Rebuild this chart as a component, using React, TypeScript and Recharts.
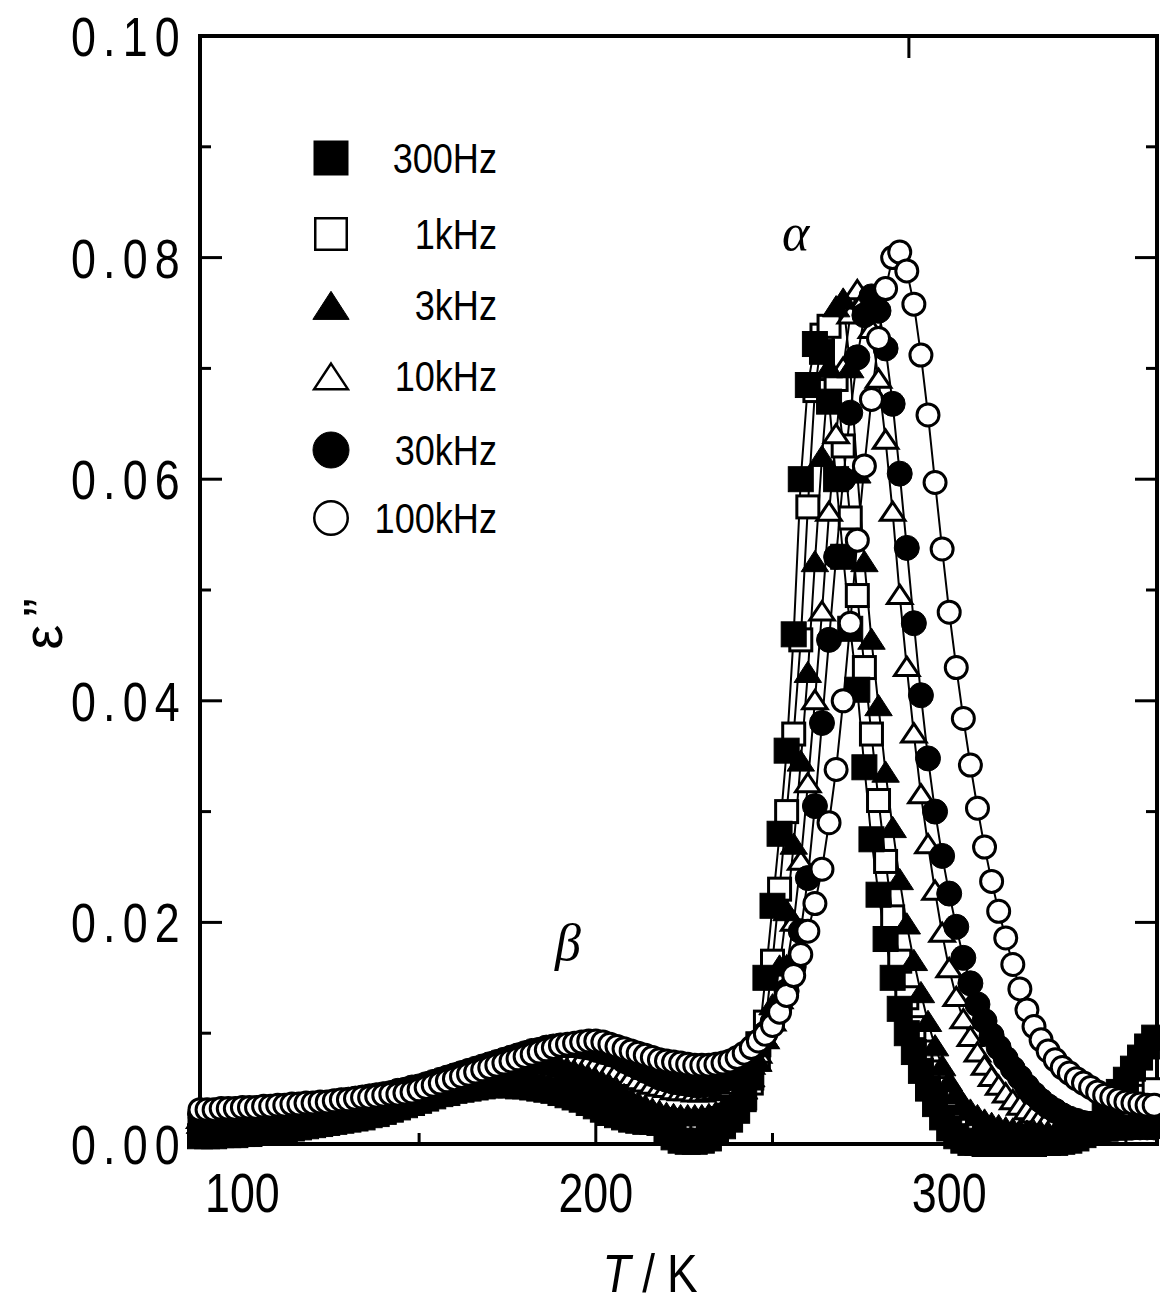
import React from 'react';
import { LineChart, Line, XAxis, YAxis } from 'recharts';

// Temperature / K (shared measurement grid)
const temps = [
  88, 90, 92, 94, 96, 98, 100, 102, 104, 106,
  108, 110, 112, 114, 116, 118, 120, 122, 124, 126,
  128, 130, 132, 134, 136, 138, 140, 142, 144, 146,
  148, 150, 152, 154, 156, 158, 160, 162, 164, 166,
  168, 170, 172, 174, 176, 178, 180, 182, 184, 186,
  188, 190, 192, 194, 196, 198, 200, 202, 204, 206,
  208, 210, 212, 214, 216, 218, 220, 222, 224, 226,
  228, 230, 232, 234, 236, 238, 240, 242, 244, 246,
  248, 250, 252, 254, 256, 258, 260, 262, 264, 266,
  268, 270, 272, 274, 276, 278, 280, 282, 284, 286,
  288, 290, 292, 294, 296, 298, 300, 302, 304, 306,
  308, 310, 312, 314, 316, 318, 320, 322, 324, 326,
  328, 330, 332, 334, 336, 338, 340, 342, 344, 346,
  348, 350, 352, 354, 356, 358,
];

const eps300Hz = [
  0.0007, 0.0007, 0.0007, 0.0008, 0.0008, 0.0008, 0.0009, 0.0009, 0.0010, 0.0010,
  0.0011, 0.0012, 0.0013, 0.0014, 0.0015, 0.0016, 0.0017, 0.0018, 0.0019, 0.0020,
  0.0021, 0.0022, 0.0023, 0.0024, 0.0026, 0.0027, 0.0029, 0.0031, 0.0033, 0.0035,
  0.0037, 0.0039, 0.0041, 0.0043, 0.0045, 0.0046, 0.0048, 0.0049, 0.0050, 0.0051,
  0.0052, 0.0053, 0.0053, 0.0053, 0.0053, 0.0052, 0.0052, 0.0051, 0.0050, 0.0049,
  0.0048, 0.0046, 0.0044, 0.0042, 0.0040, 0.0037, 0.0034, 0.0031, 0.0028, 0.0026,
  0.0024, 0.0022, 0.0021, 0.0020, 0.0020, 0.0019, 0.0012, 0.0006, 0.0003, 0.0002,
  0.0002, 0.0003, 0.0005, 0.0010, 0.0016, 0.0022, 0.0030, 0.0042, 0.0060, 0.0090,
  0.0150, 0.0215, 0.0280, 0.0355, 0.0460, 0.0600, 0.0685, 0.0722, 0.0715, 0.0670,
  0.0600, 0.0530, 0.0465, 0.0410, 0.0340, 0.0275, 0.0225, 0.0185, 0.0150, 0.0122,
  0.0100, 0.0083, 0.0066, 0.0050, 0.0036, 0.0024, 0.0014, 0.0007, 0.0003, 0.0001,
  0.0001, 0.0000, 0.0000, 0.0000, 0.0000, 0.0000, 0.0000, 0.0000, 0.0000, 0.0001,
  0.0001, 0.0001, 0.0002, 0.0003, 0.0005, 0.0008, 0.0012, 0.0018, 0.0026, 0.0036,
  0.0047, 0.0058, 0.0068, 0.0078, 0.0088, 0.0096,
];

const eps1kHz = [
  0.0013, 0.0013, 0.0014, 0.0014, 0.0014, 0.0015, 0.0015, 0.0016, 0.0016, 0.0017,
  0.0017, 0.0018, 0.0018, 0.0019, 0.0020, 0.0020, 0.0021, 0.0022, 0.0023, 0.0024,
  0.0025, 0.0026, 0.0027, 0.0028, 0.0030, 0.0031, 0.0033, 0.0035, 0.0037, 0.0039,
  0.0041, 0.0043, 0.0045, 0.0047, 0.0049, 0.0051, 0.0053, 0.0055, 0.0056, 0.0058,
  0.0059, 0.0060, 0.0061, 0.0062, 0.0062, 0.0062, 0.0062, 0.0061, 0.0060, 0.0059,
  0.0057, 0.0055, 0.0053, 0.0051, 0.0048, 0.0045, 0.0042, 0.0039, 0.0036, 0.0033,
  0.0031, 0.0029, 0.0027, 0.0025, 0.0023, 0.0022, 0.0021, 0.0020, 0.0019, 0.0019,
  0.0019, 0.0019, 0.0020, 0.0021, 0.0023, 0.0026, 0.0031, 0.0040, 0.0055, 0.0077,
  0.0110, 0.0165, 0.0230, 0.0300, 0.0370, 0.0455, 0.0575, 0.0680, 0.0730, 0.0738,
  0.0690, 0.0630, 0.0565, 0.0495, 0.0430, 0.0370, 0.0310, 0.0255, 0.0205, 0.0165,
  0.0132, 0.0105, 0.0083, 0.0065, 0.0050, 0.0038, 0.0029, 0.0022, 0.0017, 0.0013,
  0.0011, 0.0009, 0.0008, 0.0007, 0.0006, 0.0006, 0.0006, 0.0006, 0.0006, 0.0006,
  0.0006, 0.0006, 0.0007, 0.0007, 0.0008, 0.0009, 0.0011, 0.0013, 0.0015, 0.0018,
  0.0021, 0.0025, 0.0030, 0.0036, 0.0043, 0.0049,
];

const eps3kHz = [
  0.0018, 0.0018, 0.0019, 0.0019, 0.0019, 0.0020, 0.0020, 0.0021, 0.0021, 0.0022,
  0.0022, 0.0023, 0.0023, 0.0024, 0.0025, 0.0025, 0.0026, 0.0027, 0.0028, 0.0029,
  0.0030, 0.0031, 0.0032, 0.0033, 0.0035, 0.0036, 0.0038, 0.0039, 0.0041, 0.0043,
  0.0045, 0.0047, 0.0049, 0.0051, 0.0053, 0.0055, 0.0057, 0.0059, 0.0061, 0.0063,
  0.0065, 0.0066, 0.0068, 0.0069, 0.0070, 0.0071, 0.0072, 0.0072, 0.0072, 0.0071,
  0.0070, 0.0069, 0.0067, 0.0065, 0.0063, 0.0060, 0.0058, 0.0055, 0.0052, 0.0049,
  0.0044, 0.0040, 0.0037, 0.0034, 0.0031, 0.0029, 0.0027, 0.0026, 0.0025, 0.0025,
  0.0025, 0.0025, 0.0026, 0.0028, 0.0031, 0.0035, 0.0041, 0.0049, 0.0060, 0.0074,
  0.0095, 0.0125, 0.0160, 0.0210, 0.0270, 0.0345, 0.0425, 0.0525, 0.0620, 0.0700,
  0.0755, 0.0762, 0.0700, 0.0605, 0.0525, 0.0455, 0.0395, 0.0335, 0.0285, 0.0238,
  0.0198, 0.0165, 0.0136, 0.0110, 0.0088, 0.0070, 0.0056, 0.0045, 0.0036, 0.0030,
  0.0025, 0.0021, 0.0018, 0.0016, 0.0014, 0.0013, 0.0012, 0.0011, 0.0011, 0.0010,
  0.0010, 0.0010, 0.0010, 0.0010, 0.0010, 0.0010, 0.0010, 0.0011, 0.0011, 0.0012,
  0.0012, 0.0013, 0.0014, 0.0015, 0.0016, 0.0017,
];

const eps10kHz = [
  0.0022, 0.0022, 0.0023, 0.0023, 0.0023, 0.0024, 0.0024, 0.0025, 0.0025, 0.0026,
  0.0026, 0.0027, 0.0027, 0.0028, 0.0029, 0.0029, 0.0030, 0.0031, 0.0032, 0.0033,
  0.0034, 0.0035, 0.0036, 0.0037, 0.0038, 0.0039, 0.0041, 0.0042, 0.0044, 0.0045,
  0.0047, 0.0049, 0.0051, 0.0053, 0.0055, 0.0057, 0.0059, 0.0061, 0.0063, 0.0065,
  0.0067, 0.0069, 0.0071, 0.0073, 0.0075, 0.0076, 0.0078, 0.0079, 0.0080, 0.0080,
  0.0080, 0.0080, 0.0079, 0.0078, 0.0076, 0.0074, 0.0072, 0.0070, 0.0067, 0.0065,
  0.0062, 0.0060, 0.0057, 0.0055, 0.0053, 0.0051, 0.0050, 0.0048, 0.0047, 0.0047,
  0.0046, 0.0046, 0.0047, 0.0048, 0.0050, 0.0053, 0.0057, 0.0063, 0.0071, 0.0081,
  0.0094, 0.0110, 0.0130, 0.0160, 0.0200, 0.0255, 0.0325, 0.0400, 0.0480, 0.0570,
  0.0640, 0.0700, 0.0748, 0.0770, 0.0762, 0.0735, 0.0690, 0.0635, 0.0570, 0.0495,
  0.0430, 0.0370, 0.0315, 0.0270, 0.0228, 0.0190, 0.0158, 0.0132, 0.0112, 0.0096,
  0.0082, 0.0070, 0.0060, 0.0052, 0.0045, 0.0039, 0.0034, 0.0030, 0.0027, 0.0024,
  0.0022, 0.0020, 0.0019, 0.0018, 0.0017, 0.0016, 0.0016, 0.0015, 0.0015, 0.0015,
  0.0015, 0.0015, 0.0015, 0.0015, 0.0016, 0.0016,
];

const eps30kHz = [
  0.0027, 0.0027, 0.0028, 0.0028, 0.0028, 0.0029, 0.0029, 0.0030, 0.0030, 0.0031,
  0.0031, 0.0032, 0.0032, 0.0033, 0.0034, 0.0035, 0.0035, 0.0036, 0.0037, 0.0038,
  0.0039, 0.0040, 0.0041, 0.0042, 0.0043, 0.0044, 0.0045, 0.0046, 0.0048, 0.0049,
  0.0051, 0.0052, 0.0054, 0.0056, 0.0058, 0.0060, 0.0062, 0.0064, 0.0066, 0.0068,
  0.0070, 0.0072, 0.0074, 0.0076, 0.0078, 0.0080, 0.0082, 0.0084, 0.0085, 0.0087,
  0.0088, 0.0089, 0.0089, 0.0089, 0.0088, 0.0087, 0.0085, 0.0083, 0.0081, 0.0079,
  0.0075, 0.0072, 0.0069, 0.0066, 0.0063, 0.0060, 0.0058, 0.0056, 0.0055, 0.0054,
  0.0053, 0.0053, 0.0054, 0.0055, 0.0057, 0.0060, 0.0065, 0.0072, 0.0080, 0.0090,
  0.0100, 0.0110, 0.0123, 0.0138, 0.0160, 0.0192, 0.0240, 0.0305, 0.0380, 0.0455,
  0.0530, 0.0600, 0.0660, 0.0710, 0.0748, 0.0765, 0.0752, 0.0718, 0.0668, 0.0605,
  0.0538, 0.0470, 0.0405, 0.0348, 0.0300, 0.0260, 0.0226, 0.0196, 0.0168, 0.0145,
  0.0126, 0.0111, 0.0098, 0.0087, 0.0077, 0.0068, 0.0060, 0.0052, 0.0045, 0.0039,
  0.0034, 0.0030, 0.0026, 0.0023, 0.0021, 0.0019, 0.0018, 0.0017, 0.0016, 0.0016,
  0.0015, 0.0015, 0.0015, 0.0015, 0.0015, 0.0015,
];

const eps100kHz = [
  0.0031, 0.0031, 0.0031, 0.0032, 0.0032, 0.0032, 0.0033, 0.0033, 0.0033, 0.0034,
  0.0034, 0.0035, 0.0035, 0.0036, 0.0036, 0.0037, 0.0037, 0.0038, 0.0038, 0.0039,
  0.0040, 0.0040, 0.0041, 0.0042, 0.0042, 0.0043, 0.0044, 0.0045, 0.0045, 0.0046,
  0.0047, 0.0049, 0.0051, 0.0053, 0.0055, 0.0057, 0.0059, 0.0061, 0.0063, 0.0065,
  0.0067, 0.0069, 0.0071, 0.0073, 0.0075, 0.0077, 0.0079, 0.0081, 0.0083, 0.0085,
  0.0087, 0.0089, 0.0090, 0.0091, 0.0092, 0.0093, 0.0093, 0.0092, 0.0090, 0.0088,
  0.0086, 0.0084, 0.0082, 0.0080, 0.0078, 0.0076, 0.0075, 0.0074, 0.0073, 0.0072,
  0.0071, 0.0071, 0.0071, 0.0072, 0.0073, 0.0075, 0.0078, 0.0082, 0.0087, 0.0093,
  0.0099, 0.0107, 0.0119, 0.0134, 0.0152, 0.0171, 0.0192, 0.0217, 0.0248, 0.0290,
  0.0338, 0.0400, 0.0470, 0.0545, 0.0612, 0.0672, 0.0727, 0.0772, 0.0800, 0.0805,
  0.0788, 0.0758, 0.0712, 0.0658, 0.0597, 0.0537, 0.0480, 0.0430, 0.0384, 0.0342,
  0.0303, 0.0268, 0.0237, 0.0210, 0.0186, 0.0162, 0.0140, 0.0121, 0.0106, 0.0094,
  0.0084, 0.0076, 0.0069, 0.0064, 0.0059, 0.0055, 0.0051, 0.0047, 0.0044, 0.0042,
  0.0040, 0.0038, 0.0037, 0.0036, 0.0035, 0.0035,
];

const xTicks = [100, 150, 200, 250, 300, 350];
const xMajor = [100, 200, 300];
const yTicks = [0, 0.01, 0.02, 0.03, 0.04, 0.05, 0.06, 0.07, 0.08, 0.09, 0.1];
const yMajor = [0, 0.02, 0.04, 0.06, 0.08, 0.1];
const xDomain: [number, number] = [88, 358.8];
const yDomain: [number, number] = [0, 0.1];

type Shape = 'square' | 'triangle' | 'circle';
type SeriesDef = { key: string; name: string; values: number[]; shape: Shape; filled: boolean };

// legend order
const seriesDefs: SeriesDef[] = [
  { key: 'f300', name: '300Hz', values: eps300Hz, shape: 'square', filled: true },
  { key: 'f1k', name: '1kHz', values: eps1kHz, shape: 'square', filled: false },
  { key: 'f3k', name: '3kHz', values: eps3kHz, shape: 'triangle', filled: true },
  { key: 'f10k', name: '10kHz', values: eps10kHz, shape: 'triangle', filled: false },
  { key: 'f30k', name: '30kHz', values: eps30kHz, shape: 'circle', filled: true },
  { key: 'f100k', name: '100kHz', values: eps100kHz, shape: 'circle', filled: false },
];
// drawing order (open symbols underneath the filled ones, 100kHz on top)
const drawOrder = ['f1k', 'f10k', 'f300', 'f3k', 'f30k', 'f100k'];

const rows = temps.map((T, i) => {
  const r: Record<string, number> = { T };
  seriesDefs.forEach((s) => {
    r[s.key] = s.values[i];
  });
  return r;
});

const FONT = "'Liberation Sans', Arial, sans-serif";
const W = 1152;
const H = 1295;
const TOP_PAD = 8; // extra room above the chart so the top tick label is fully inside the svg

function markerEl(shape: Shape, filled: boolean, cx: number, cy: number, s: number, sw: number, key?: string) {
  const fill = filled ? '#000' : '#fff';
  const strokeW = filled ? 1 : sw;
  if (shape === 'square') {
    const h = filled ? s : s - sw / 2;
    return <rect key={key} x={cx - h} y={cy - h} width={2 * h} height={2 * h} fill={fill} stroke="#000" strokeWidth={strokeW} />;
  }
  if (shape === 'circle') {
    const r = filled ? s : s - sw / 2;
    return <circle key={key} cx={cx} cy={cy} r={r} fill={fill} stroke="#000" strokeWidth={strokeW} />;
  }
  const w = filled ? s * 1.1 : s * 1.1 - sw / 2;
  const hTop = filled ? s * 0.95 : s * 0.95 - sw / 2;
  const hBot = filled ? s * 0.75 : s * 0.75 - sw / 2;
  const pts = `${cx},${cy - hTop} ${cx + w},${cy + hBot} ${cx - w},${cy + hBot}`;
  return <polygon key={key} points={pts} fill={fill} stroke="#000" strokeWidth={strokeW} strokeLinejoin="miter" />;
}

const makeDot = (shape: Shape, filled: boolean) => (props: any) => {
  const { cx, cy, index } = props;
  if (cx == null || cy == null) return <g key={`e-${index}`} />;
  return <g key={`d-${index}`}>{markerEl(shape, filled, cx, cy, 12.5, 3)}</g>;
};

const renderBottomTick = (props: any) => {
  const { x, y, payload } = props;
  const major = xMajor.includes(payload.value);
  return (
    <g>
      <line x1={x} y1={y} x2={x} y2={y - (major ? 22 : 11)} stroke="#000" strokeWidth={3} />
      {major && (
        <text
          transform={`translate(${x},${y + 68}) scale(0.8,1)`}
          textAnchor="middle"
          fontSize={56}
          fontFamily={FONT}
          fill="#000"
        >
          {payload.value}
        </text>
      )}
    </g>
  );
};

const renderTopTick = (props: any) => {
  const { x, y, payload } = props;
  const major = xMajor.includes(payload.value);
  return <line x1={x} y1={y} x2={x} y2={y + (major ? 22 : 11)} stroke="#000" strokeWidth={3} />;
};

const isYMajor = (v: number) => yMajor.some((m) => Math.abs(m - v) < 1e-9);

const renderLeftTick = (props: any) => {
  const { x, y, payload } = props;
  const major = isYMajor(payload.value);
  return (
    <g>
      <line x1={x} y1={y} x2={x + (major ? 22 : 11)} y2={y} stroke="#000" strokeWidth={3} />
      {major && (
        <text
          transform={`translate(${x - 13},${y + 20}) scale(0.8,1)`}
          textAnchor="end"
          fontSize={56}
          fontFamily={FONT}
          fill="#000"
          letterSpacing={9}
        >
          {Number(payload.value).toFixed(2)}
        </text>
      )}
    </g>
  );
};

const renderRightTick = (props: any) => {
  const { x, y, payload } = props;
  const major = isYMajor(payload.value);
  return <line x1={x} y1={y} x2={x - (major ? 22 : 11)} y2={y} stroke="#000" strokeWidth={3} />;
};

const axisLineStyle = { stroke: '#000', strokeWidth: 4, strokeLinecap: 'square' as const };

// legend layout (container coordinates)
const legendRowsY = [150, 226, 297, 368, 442, 510];

export default function App() {
  const ordered = drawOrder.map((k) => seriesDefs.find((s) => s.key === k)!);
  return (
    <div style={{ position: 'relative', width: W, height: H, background: '#fff' }}>
      <div style={{ position: 'absolute', left: 0, top: -TOP_PAD }}>
        <LineChart
          width={W}
          height={H + TOP_PAD}
          data={rows}
          margin={{ top: 26 + TOP_PAD, right: 0, bottom: 0, left: 0 }}
        >
          <XAxis
            xAxisId="b"
            dataKey="T"
            type="number"
            domain={xDomain}
            ticks={xTicks}
            interval={0}
            orientation="bottom"
            height={159}
            axisLine={axisLineStyle}
            tickLine={false}
            tickSize={0}
            tickMargin={0}
            tick={renderBottomTick}
          />
          <XAxis
            xAxisId="t"
            type="number"
            domain={xDomain}
            allowDataOverflow
            ticks={xTicks}
            interval={0}
            orientation="top"
            height={2}
            axisLine={axisLineStyle}
            tickLine={false}
            tickSize={0}
            tickMargin={0}
            tick={renderTopTick}
          />
          <YAxis
            yAxisId="l"
            type="number"
            domain={yDomain}
            ticks={yTicks}
            interval={0}
            orientation="left"
            width={192}
            axisLine={axisLineStyle}
            tickLine={false}
            tickSize={0}
            tickMargin={0}
            tick={renderLeftTick}
          />
          <YAxis
            yAxisId="r"
            type="number"
            domain={yDomain}
            allowDataOverflow
            ticks={yTicks}
            interval={0}
            orientation="right"
            width={3}
            axisLine={axisLineStyle}
            tickLine={false}
            tickSize={0}
            tickMargin={0}
            tick={renderRightTick}
          />
          {ordered.map((s) => (
            <Line
              key={s.key}
              xAxisId="b"
              yAxisId="l"
              type="linear"
              dataKey={s.key}
              name={s.name}
              stroke="#000"
              strokeWidth={2}
              dot={makeDot(s.shape, s.filled)}
              activeDot={false}
              isAnimationActive={false}
            />
          ))}
        </LineChart>
      </div>
      <svg
        width={W}
        height={H}
        style={{ position: 'absolute', left: 0, top: 0, pointerEvents: 'none', overflow: 'visible' }}
      >
        {/* legend */}
        {seriesDefs.map((s, i) => (
          <g key={s.key}>
            {s.shape === 'square'
              ? markerEl(s.shape, s.filled, 323, legendRowsY[i], 17, 2.5)
              : s.shape === 'triangle'
              ? markerEl(s.shape, s.filled, 323, legendRowsY[i] + 2, 16.5, 2.5)
              : markerEl(s.shape, s.filled, 323, legendRowsY[i], 18, 2.5)}
            <text
              transform={`translate(489,${legendRowsY[i] + 15}) scale(0.86,1)`}
              textAnchor="end"
              fontSize={42}
              fontFamily={FONT}
              fill="#000"
            >
              {s.name}
            </text>
          </g>
        ))}
        {/* peak labels */}
        <text x={774} y={242} fontSize={52} fontStyle="italic" fontFamily="'Liberation Serif', 'DejaVu Serif', serif" fill="#000">
          α
        </text>
        <text x={547} y={952} fontSize={52} fontStyle="italic" fontFamily="'Liberation Serif', 'DejaVu Serif', serif" fill="#000">
          β
        </text>
        {/* axis titles */}
        <text transform="translate(642,1284) scale(0.85,1)" textAnchor="middle" fontSize={54} fontFamily={FONT} fill="#000">
          <tspan fontStyle="italic">T</tspan>
          <tspan dx={14}>/</tspan>
          <tspan dx={14}>K</tspan>
        </text>
        <text
          x={54}
          y={612}
          textAnchor="middle"
          fontSize={56}
          fontFamily={FONT}
          fill="#000"
          letterSpacing={8}
          transform="rotate(-90, 54, 612)"
        >
          ε”
        </text>
      </svg>
    </div>
  );
}
